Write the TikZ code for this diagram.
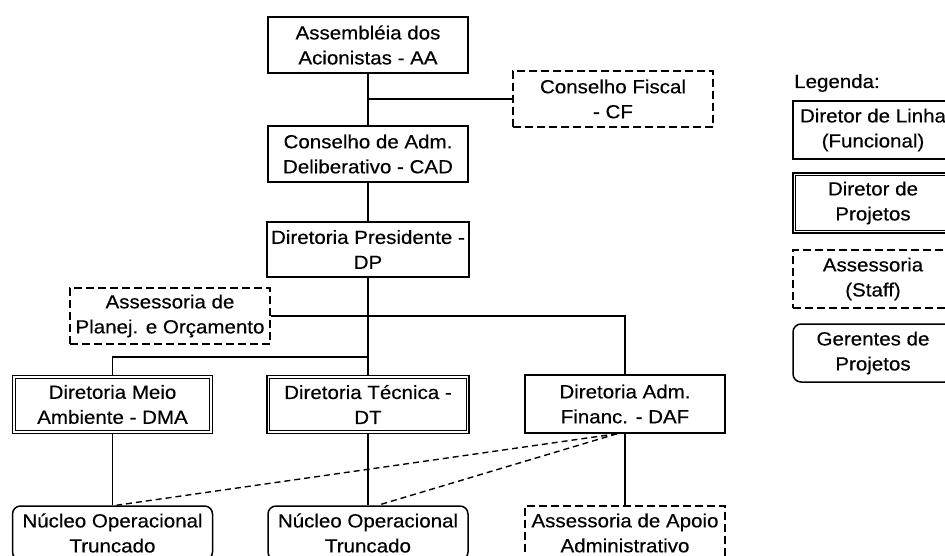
\documentclass[tikz,border=0pt]{standalone}
\usepackage{fontspec}
\newfontfamily\chartfont[FakeStretch=1.08,FakeBold=0.35]{Liberation Sans}
\begin{document}
\begin{tikzpicture}[x=1pt,y=-1pt,
  every node/.style={font=\chartfont\fontsize{19}{25}\selectfont, align=center, inner sep=0pt},
  box/.style={draw, line width=1.5pt, minimum width=200pt, minimum height=56pt},
  linebox/.style={box},
  projbox/.style={box},
  staffbox/.style={box, line width=1.4pt, dash pattern=on 8pt off 4pt},
  mgrbox/.style={box, rounded corners=8pt},
  inner frame/.style={line width=1pt},
  link/.style={line width=1.5pt},
  dotlink/.style={line width=1.4pt, dash pattern=on 6pt off 4pt}]
\clip (0,0) rectangle (945,556);
\fill[white] (0,0) rectangle (945,556);

% main hierarchy
\node[linebox] (AA)  at (368,45)    {Assembléia dos\\Acionistas - AA};
\node[staffbox] (CF) at (613,99)    {Conselho Fiscal\\- CF};
\node[linebox] (CAD) at (368,154)   {Conselho de Adm.\\Deliberativo - CAD};
\node[linebox, minimum width=202pt, minimum height=55pt] (DP) at (368,249.5) {Diretoria Presidente -\\DP};
\node[staffbox] (APO) at (170,316)  {Assessoria de\\Planej. e Orçamento};

\node[projbox, minimum height=58pt] (DMA) at (112.5,404.5) {Diretoria Meio\\Ambiente - DMA};
\node[projbox, minimum width=202pt, minimum height=58pt] (DT) at (368,404.5) {Diretoria Técnica -\\DT};
\node[linebox, minimum height=58pt] (DAF) at (625,404) {Diretoria Adm.\\Financ. - DAF};

\node[mgrbox, minimum height=54pt] (NOT1) at (112.5,533) {Núcleo Operacional\\Truncado};
\node[mgrbox, minimum height=54pt] (NOT2) at (368,533) {Núcleo Operacional\\Truncado};
\node[staffbox, minimum height=54pt] (AAA) at (625,533) {Assessoria de Apoio\\Administrativo};

% legend
\node[anchor=base west] (leg) at (794,88) {Legenda:};
\node[linebox, minimum width=160pt, minimum height=58pt] (L1) at (873,130) {Diretor de Linha\\(Funcional)};
\node[projbox, minimum width=160pt, minimum height=60pt] (L2) at (873,203) {Diretor de\\Projetos};
\node[staffbox, minimum width=160pt, minimum height=58pt] (L3) at (873,279) {Assessoria\\(Staff)};
\node[mgrbox, minimum width=160pt, minimum height=58pt] (L4) at (873,353) {Gerentes de\\Projetos};

% inner frame of the double-bordered (project director) boxes
\foreach \n in {DMA,DT,L2}
  \draw[inner frame] ([shift={(3.5,3.5)}]\n.north west) rectangle ([shift={(-3.5,-3.5)}]\n.south east);

% junction on the central line
\coordinate (jDMA) at (368,357);

% connectors
\draw[link] (AA.south) -- (CAD.north);
\draw[link] (AA.south |- CF.west) -- (CF.west);
\draw[link] (CAD.south) -- (DP.north);
\draw[link] (DP.south) -- (DT.north);
\draw[link] (APO.east) -| (DAF.north);
\draw[link] (DMA.north) |- (jDMA);
\draw[link] (DMA.south) -- (NOT1.north);
\draw[link] (DT.south) -- (NOT2.north);
\draw[link] (DAF.south) -- (AAA.north);
\draw[dotlink] ([xshift=-8pt]DAF.south) -- ([xshift=4pt]NOT1.north);
\draw[dotlink] ([xshift=-8pt]DAF.south) -- ([xshift=10pt]NOT2.north);
\end{tikzpicture}
\end{document}
